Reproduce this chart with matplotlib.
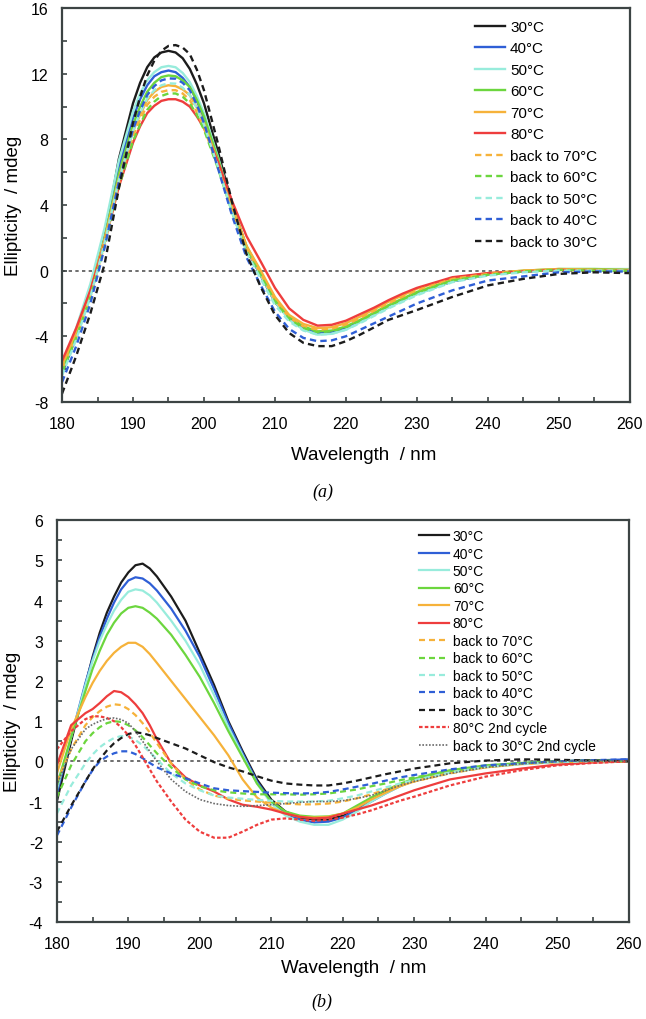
import numpy as np
import matplotlib.pyplot as plt
from matplotlib.ticker import MultipleLocator

plt.rcParams['font.family'] = ['Liberation Sans', 'DejaVu Sans']
plt.rcParams['axes.unicode_minus'] = False

# panel (a)
wl_a = [180, 182, 184, 186, 188, 190, 191, 192, 193, 194, 195, 196, 197, 198, 199, 200, 202, 204, 206, 208,
        210, 212, 214, 216, 218, 220, 222, 224, 226, 228, 230, 235, 240, 245, 250, 255, 260]
a_30 = [-6.0, -3.8, -1.4, 2.0, 6.8, 10.2, 11.45, 12.4, 13.0, 13.3, 13.4, 13.3, 12.95, 12.3, 11.35, 10.2,
        7.2, 4.0, 1.4, -0.3, -1.9, -2.9, -3.5, -3.8, -3.75, -3.5, -3.1, -2.65, -2.2, -1.8, -1.4,
        -0.65, -0.25, -0.05, 0.05, 0.05, 0.0]
a_40 = [-6.3, -4.0, -1.4, 2.0, 6.3, 9.3, 10.45, 11.3, 11.85, 12.1, 12.2, 12.1, 11.75, 11.2, 10.35, 9.3,
        6.6, 3.7, 1.3, -0.3, -1.9, -2.9, -3.5, -3.8, -3.75, -3.5, -3.1, -2.65, -2.2, -1.8, -1.4,
        -0.65, -0.25, -0.05, 0.05, 0.05, 0.0]
a_50 = [-6.0, -3.5, -0.8, 2.6, 6.7, 9.7, 10.8, 11.6, 12.1, 12.4, 12.48, 12.4, 12.05, 11.5, 10.65, 9.6,
        6.9, 3.9, 1.4, -0.3, -1.9, -3.0, -3.6, -3.9, -3.85, -3.6, -3.15, -2.7, -2.25, -1.85, -1.45,
        -0.65, -0.25, -0.05, 0.1, 0.1, 0.1]
a_60 = [-6.2, -3.9, -1.3, 2.0, 5.9, 8.9, 10.0, 10.9, 11.45, 11.8, 11.9, 11.85, 11.6, 11.2, 10.4, 9.4,
        6.8, 3.9, 1.5, -0.1, -1.7, -2.8, -3.4, -3.7, -3.65, -3.4, -3.0, -2.55, -2.1, -1.7, -1.3,
        -0.55, -0.2, 0.0, 0.1, 0.1, 0.05]
a_70 = [-5.8, -3.7, -1.2, 1.9, 5.6, 8.5, 9.5, 10.4, 10.9, 11.2, 11.3, 11.25, 11.05, 10.7, 9.95, 9.0,
        6.6, 3.9, 1.5, 0.0, -1.6, -2.7, -3.25, -3.5, -3.45, -3.2, -2.8, -2.35, -1.9, -1.5, -1.1,
        -0.45, -0.15, 0.0, 0.1, 0.05, 0.05]
a_80 = [-5.5, -3.5, -1.2, 1.7, 5.1, 7.8, 8.8, 9.6, 10.05, 10.35, 10.45, 10.45, 10.3, 10.0, 9.4, 8.7,
        6.6, 4.2, 2.1, 0.55, -1.05, -2.3, -3.0, -3.35, -3.3, -3.05, -2.65, -2.25, -1.8, -1.4, -1.05,
        -0.4, -0.15, -0.05, 0.05, 0.0, 0.0]
a_back70 = [-6.0, -4.0, -1.6, 1.6, 5.3, 8.2, 9.2, 10.1, 10.6, 10.9, 11.0, 11.0, 10.8, 10.4, 9.65, 8.7,
            6.3, 3.6, 1.3, -0.2, -1.8, -2.85, -3.4, -3.6, -3.55, -3.3, -2.9, -2.45, -2.0, -1.6, -1.2,
            -0.5, -0.2, 0.0, 0.05, 0.05, 0.0]
a_back60 = [-6.2, -4.1, -1.6, 1.5, 5.1, 7.9, 8.9, 9.8, 10.3, 10.65, 10.8, 10.8, 10.6, 10.2, 9.5, 8.6,
            6.2, 3.5, 1.2, -0.3, -1.9, -2.95, -3.5, -3.75, -3.7, -3.45, -3.05, -2.6, -2.15, -1.75, -1.35,
            -0.6, -0.25, -0.05, 0.05, 0.0, 0.0]
a_back50 = [-6.4, -4.2, -1.6, 1.7, 5.5, 8.5, 9.6, 10.5, 11.0, 11.3, 11.42, 11.4, 11.15, 10.7, 9.9, 8.9,
            6.3, 3.5, 1.1, -0.5, -2.1, -3.1, -3.65, -3.9, -3.85, -3.6, -3.2, -2.75, -2.3, -1.9, -1.5,
            -0.7, -0.3, -0.1, 0.0, 0.0, 0.0]
a_back40 = [-6.8, -4.6, -2.0, 1.4, 5.4, 8.6, 9.75, 10.7, 11.25, 11.6, 11.72, 11.7, 11.45, 11.0, 10.1, 9.0,
            6.2, 3.3, 0.8, -0.9, -2.5, -3.55, -4.1, -4.3, -4.25, -4.0, -3.6, -3.2, -2.8, -2.4, -2.0,
            -1.2, -0.6, -0.35, -0.1, -0.05, -0.05]
a_back30 = [-7.5, -5.2, -2.6, 0.4, 5.0, 9.0, 10.6, 11.9, 12.8, 13.4, 13.7, 13.75, 13.6, 13.2, 12.25, 11.0,
            7.7, 4.1, 1.0, -1.0, -2.7, -3.8, -4.4, -4.6, -4.6, -4.3, -3.9, -3.45, -3.0, -2.7, -2.4,
            -1.6, -0.9, -0.5, -0.2, -0.1, -0.15]

# panel (b)
wl_b = [180, 182, 184, 185, 186, 187, 188, 189, 190, 191, 192, 193, 194, 196, 198, 200, 202, 204, 206, 208,
        210, 212, 214, 216, 218, 220, 222, 224, 226, 228, 230, 235, 240, 245, 250, 255, 260]
b_30 = [-1.0, 0.5, 1.9, 2.6, 3.2, 3.7, 4.1, 4.45, 4.7, 4.88, 4.92, 4.8, 4.6, 4.1, 3.5, 2.7, 1.9, 1.0, 0.25,
        -0.45, -0.95, -1.25, -1.4, -1.45, -1.45, -1.35, -1.15, -0.95, -0.75, -0.6, -0.45,
        -0.25, -0.12, -0.05, 0.0, 0.02, 0.0]
b_40 = [-0.8, 0.6, 1.95, 2.55, 3.1, 3.55, 3.95, 4.28, 4.5, 4.58, 4.55, 4.43, 4.25, 3.8, 3.25, 2.6, 1.8, 0.95,
        0.2, -0.5, -1.0, -1.3, -1.45, -1.52, -1.5, -1.4, -1.2, -1.0, -0.8, -0.62, -0.48,
        -0.25, -0.12, -0.05, 0.0, 0.02, 0.05]
b_50 = [-0.7, 0.6, 1.9, 2.5, 3.0, 3.4, 3.75, 4.02, 4.22, 4.28, 4.25, 4.13, 3.95, 3.5, 3.0, 2.4, 1.65, 0.85,
        0.15, -0.55, -1.05, -1.35, -1.5, -1.58, -1.58, -1.45, -1.25, -1.0, -0.8, -0.62, -0.48,
        -0.25, -0.12, -0.05, 0.0, 0.02, 0.0]
b_60 = [-0.6, 0.6, 1.75, 2.3, 2.75, 3.15, 3.45, 3.68, 3.82, 3.86, 3.82, 3.7, 3.55, 3.15, 2.65, 2.1, 1.45,
        0.75, 0.1, -0.55, -1.0, -1.25, -1.35, -1.38, -1.37, -1.3, -1.1, -0.9, -0.72, -0.56, -0.43,
        -0.22, -0.1, -0.04, 0.0, 0.02, 0.0]
b_70 = [-0.3, 0.8, 1.6, 1.95, 2.25, 2.5, 2.7, 2.85, 2.95, 2.95, 2.85, 2.67, 2.45, 2.0, 1.55, 1.1, 0.65,
        0.15, -0.45, -0.9, -1.15, -1.3, -1.38, -1.4, -1.38, -1.3, -1.15, -0.95, -0.78, -0.62, -0.5,
        -0.28, -0.15, -0.07, -0.02, 0.0, 0.0]
b_80 = [-0.1, 0.9, 1.2, 1.3, 1.45, 1.62, 1.75, 1.72, 1.6, 1.42, 1.2, 0.9, 0.55, -0.05, -0.4, -0.6, -0.75,
        -0.95, -1.08, -1.13, -1.2, -1.3, -1.38, -1.42, -1.4, -1.3, -1.2, -1.1, -0.98, -0.85, -0.72,
        -0.45, -0.3, -0.18, -0.08, -0.03, 0.0]
b_back70 = [-0.5, 0.3, 0.9, 1.1, 1.25, 1.36, 1.42, 1.4, 1.3, 1.15, 0.95, 0.72, 0.45, -0.05, -0.45, -0.7,
            -0.85, -0.93, -0.97, -1.0, -1.03, -1.05, -1.07, -1.07, -1.05, -1.0, -0.92, -0.82, -0.7, -0.6,
            -0.5, -0.3, -0.15, -0.06, -0.02, 0.0, 0.0]
b_back60 = [-0.9, -0.1, 0.5, 0.7, 0.85, 0.95, 1.0, 0.98, 0.9, 0.77, 0.6, 0.4, 0.2, -0.15, -0.45, -0.62,
            -0.72, -0.77, -0.8, -0.82, -0.82, -0.82, -0.83, -0.82, -0.8, -0.75, -0.7, -0.62, -0.55, -0.47,
            -0.4, -0.24, -0.12, -0.05, 0.0, 0.02, 0.0]
b_back50 = [-1.3, -0.6, -0.05, 0.17, 0.35, 0.48, 0.58, 0.63, 0.62, 0.53, 0.4, 0.23, 0.05, -0.3, -0.55,
            -0.72, -0.85, -0.9, -0.93, -0.96, -0.98, -1.0, -1.0, -1.0, -0.98, -0.92, -0.85, -0.75, -0.65,
            -0.55, -0.47, -0.28, -0.14, -0.07, -0.02, 0.0, 0.0]
b_back40 = [-1.85, -1.15, -0.5, -0.22, 0.0, 0.12, 0.2, 0.25, 0.25, 0.18, 0.08, -0.04, -0.15, -0.3, -0.42,
            -0.55, -0.67, -0.72, -0.74, -0.76, -0.78, -0.79, -0.8, -0.79, -0.76, -0.7, -0.63, -0.56, -0.48,
            -0.4, -0.34, -0.2, -0.1, -0.05, 0.0, 0.03, 0.05]
b_back30 = [-1.75, -1.1, -0.5, -0.2, 0.05, 0.27, 0.45, 0.58, 0.68, 0.72, 0.7, 0.65, 0.58, 0.45, 0.32, 0.15,
            -0.02, -0.15, -0.25, -0.37, -0.48, -0.55, -0.58, -0.6, -0.6, -0.55, -0.48, -0.4, -0.32, -0.25,
            -0.18, -0.05, 0.02, 0.05, 0.04, 0.02, 0.0]
b_80_2nd = [0.3, 0.75, 1.05, 1.12, 1.12, 1.08, 1.0, 0.85, 0.65, 0.4, 0.1, -0.2, -0.5, -1.0, -1.45, -1.75,
            -1.9, -1.9, -1.75, -1.58, -1.45, -1.42, -1.45, -1.48, -1.45, -1.4, -1.32, -1.22, -1.1, -0.98,
            -0.88, -0.6, -0.38, -0.22, -0.1, -0.04, 0.0]
b_back30_2nd = [-0.6, 0.3, 0.8, 0.92, 1.0, 1.06, 1.08, 1.04, 0.95, 0.75, 0.5, 0.25, 0.0, -0.45, -0.75,
                -0.95, -1.05, -1.1, -1.12, -1.1, -1.08, -1.05, -1.02, -1.0, -1.0, -0.98, -0.92, -0.85, -0.72,
                -0.6, -0.5, -0.3, -0.15, -0.06, 0.0, 0.02, 0.0]

labels_a = ['30°C', '40°C', '50°C', '60°C', '70°C', '80°C',
            'back to 70°C', 'back to 60°C', 'back to 50°C', 'back to 40°C', 'back to 30°C']
labels_b = labels_a + ['80°C 2nd cycle', 'back to 30°C 2nd cycle']

c_black = '#1c1c1c'
c_blue = '#2f5fd6'
c_cyan = '#98ecdc'
c_green = '#6cd63e'
c_orange = '#f6b23a'
c_red = '#ee3d3d'
spine_col = '#3c4444'

dash = (0, (2.7, 1.8))
styles = [(c_black, '-'), (c_blue, '-'), (c_cyan, '-'), (c_green, '-'), (c_orange, '-'), (c_red, '-'),
          (c_orange, dash), (c_green, dash), (c_cyan, dash), (c_blue, dash), (c_black, dash),
          (c_red, (0, (1.6, 1.0))), ('#6a6a6a', (0, (1, 1)))]

fig = plt.figure(figsize=(6.46, 10.2), dpi=100)
ax1 = fig.add_axes([0.096, 0.605, 0.879, 0.386])
ax2 = fig.add_axes([0.088, 0.095, 0.885, 0.394])


def style_axes(ax, ylim, ymaj, ymin):
    ax.set_xlim(180, 260)
    ax.set_ylim(*ylim)
    ax.xaxis.set_major_locator(MultipleLocator(10))
    ax.xaxis.set_minor_locator(MultipleLocator(5))
    ax.yaxis.set_major_locator(MultipleLocator(ymaj))
    ax.yaxis.set_minor_locator(MultipleLocator(ymin))
    for s in ax.spines.values():
        s.set_color(spine_col)
        s.set_linewidth(1.6)
    ax.tick_params(which='both', direction='in', length=3.5, width=1.2, color=spine_col,
                   labelsize=11.5, pad=10, top=False, right=False)
    ax.axhline(0, color='#555555', lw=1.2, ls=(0, (2, 2)), zorder=1)
    ax.set_xlabel('Wavelength  / nm', fontsize=13.5)
    ax.set_ylabel('Ellipticity  / mdeg', fontsize=13.5)


series_a = [a_30, a_40, a_50, a_60, a_70, a_80, a_back70, a_back60, a_back50, a_back40, a_back30]
for ys, lab, (col, ls) in zip(series_a, labels_a, styles):
    ax1.plot(wl_a, ys, color=col, ls=ls, lw=1.7, label=lab, zorder=2)
style_axes(ax1, (-8, 16), 4, 2)
ax1.xaxis.set_label_coords(0.532, -0.112)
ax1.yaxis.set_label_coords(-0.07, 0.5)
ax1.legend(loc='upper left', bbox_to_anchor=(0.727, 0.97), frameon=False, fontsize=11,
           handlelength=2.0, handletextpad=0.3, labelspacing=0.49, borderpad=0, borderaxespad=0)

series_b = [b_30, b_40, b_50, b_60, b_70, b_80, b_back70, b_back60, b_back50, b_back40, b_back30,
            b_80_2nd, b_back30_2nd]
for ys, lab, (col, ls) in zip(series_b, labels_b, styles):
    lw = 1.2 if lab == 'back to 30°C 2nd cycle' else 1.6
    ax2.plot(wl_b, ys, color=col, ls=ls, lw=lw, label=lab, zorder=2)
style_axes(ax2, (-4, 6), 1, 0.5)
ax2.xaxis.set_label_coords(0.52, -0.093)
ax2.yaxis.set_label_coords(-0.062, 0.5)
ax2.legend(loc='upper left', bbox_to_anchor=(0.633, 0.978), frameon=False, fontsize=10,
           handlelength=2.2, handletextpad=0.25, labelspacing=0.25, borderpad=0, borderaxespad=0)

fig.text(323 / 646, 1 - 492 / 1020, '(a)', family='Liberation Serif', style='italic',
         fontsize=13, ha='center', va='center')
fig.text(322 / 646, 1 - 1002 / 1020, '(b)', family='Liberation Serif', style='italic',
         fontsize=13, ha='center', va='center')

fig.savefig('out.png', dpi=100)
